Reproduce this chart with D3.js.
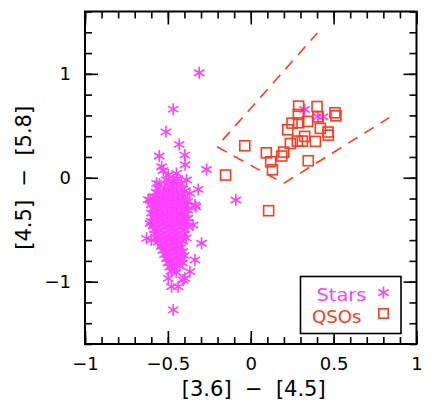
<!DOCTYPE html>
<html>
<head>
<meta charset="utf-8">
<script src="https://cdn.jsdelivr.net/npm/d3@7"></script>
<style>
  body { margin: 0; background: #fff; }
  text { font-family: "DejaVu Sans", sans-serif; }
</style>
</head>
<body>
<div id="chart"></div>
<script>
// colour-colour data
var starPoints = [
  // isolated stars
  [-0.311, 1.01], [-0.468, 0.66], [-0.512, 0.442], [-0.432, 0.321], [-0.398, 0.218],
  [-0.396, 0.125], [-0.552, 0.209], [-0.538, 0.106], [-0.528, 0.07], [-0.267, 0.08],
  [-0.448, 0.042], [-0.498, 0.026], [-0.387, -0.022], [-0.568, -0.054], [-0.317, -0.112],
  [-0.367, -0.15], [-0.09, -0.214], [-0.608, -0.214], [-0.619, -0.21], [-0.337, -0.262],
  [-0.331, -0.279], [-0.608, -0.44], [-0.348, -0.455], [-0.629, -0.583], [-0.6, -0.6],
  [-0.297, -0.631], [-0.337, -0.79], [-0.367, -0.904], [-0.398, -0.968], [-0.498, -0.968],
  [-0.478, -1.048], [-0.438, -1.048], [-0.408, -0.984], [-0.468, -1.272],
  [0.325, 0.657], [0.405, 0.587], [0.436, 0.587],
  // dense clump
  [-0.51, -0.02], [-0.47, -0.03], [-0.44, -0.01],
  [-0.55, -0.06], [-0.50, -0.07], [-0.46, -0.05], [-0.42, -0.06],
  [-0.56, -0.10], [-0.52, -0.11], [-0.49, -0.09], [-0.45, -0.10], [-0.41, -0.11],
  [-0.57, -0.14], [-0.53, -0.15], [-0.50, -0.13], [-0.47, -0.14], [-0.44, -0.15], [-0.40, -0.13],
  [-0.58, -0.18], [-0.55, -0.19], [-0.52, -0.17], [-0.49, -0.18], [-0.46, -0.19], [-0.43, -0.17], [-0.40, -0.18],
  [-0.59, -0.22], [-0.56, -0.23], [-0.53, -0.21], [-0.50, -0.22], [-0.47, -0.23], [-0.44, -0.21], [-0.41, -0.22], [-0.38, -0.23],
  [-0.60, -0.26], [-0.57, -0.27], [-0.54, -0.25], [-0.51, -0.26], [-0.48, -0.27], [-0.45, -0.25], [-0.42, -0.26], [-0.39, -0.27],
  [-0.59, -0.30], [-0.56, -0.31], [-0.53, -0.29], [-0.50, -0.30], [-0.47, -0.31], [-0.44, -0.29], [-0.41, -0.30], [-0.38, -0.31],
  [-0.60, -0.34], [-0.57, -0.35], [-0.54, -0.33], [-0.51, -0.34], [-0.48, -0.35], [-0.45, -0.33], [-0.42, -0.34], [-0.39, -0.35],
  [-0.59, -0.38], [-0.56, -0.39], [-0.53, -0.37], [-0.50, -0.38], [-0.47, -0.39], [-0.44, -0.37], [-0.41, -0.38], [-0.38, -0.39],
  [-0.60, -0.42], [-0.57, -0.43], [-0.54, -0.41], [-0.51, -0.42], [-0.48, -0.43], [-0.45, -0.41], [-0.42, -0.42], [-0.39, -0.43],
  [-0.59, -0.46], [-0.56, -0.47], [-0.53, -0.45], [-0.50, -0.46], [-0.47, -0.47], [-0.44, -0.45], [-0.41, -0.46], [-0.38, -0.47],
  [-0.58, -0.50], [-0.55, -0.51], [-0.52, -0.49], [-0.49, -0.50], [-0.46, -0.51], [-0.43, -0.49], [-0.40, -0.50],
  [-0.58, -0.54], [-0.55, -0.55], [-0.52, -0.53], [-0.49, -0.54], [-0.46, -0.55], [-0.43, -0.53], [-0.40, -0.54],
  [-0.57, -0.58], [-0.54, -0.59], [-0.51, -0.57], [-0.48, -0.58], [-0.45, -0.59], [-0.42, -0.57], [-0.39, -0.58],
  [-0.56, -0.62], [-0.53, -0.63], [-0.50, -0.61], [-0.47, -0.62], [-0.44, -0.63], [-0.41, -0.61],
  [-0.54, -0.66], [-0.51, -0.67], [-0.48, -0.65], [-0.45, -0.66], [-0.42, -0.67],
  [-0.53, -0.70], [-0.50, -0.71], [-0.47, -0.69], [-0.44, -0.70], [-0.41, -0.71],
  [-0.52, -0.74], [-0.49, -0.75], [-0.46, -0.73], [-0.43, -0.74], [-0.40, -0.75],
  [-0.51, -0.78], [-0.48, -0.79], [-0.45, -0.77], [-0.42, -0.78],
  [-0.50, -0.82], [-0.47, -0.83], [-0.44, -0.81], [-0.41, -0.82],
  [-0.49, -0.86], [-0.46, -0.87], [-0.43, -0.85],
  [-0.48, -0.90], [-0.45, -0.91]
];

var qsoPoints = [
  [-0.036, 0.308], [-0.152, 0.026], [0.108, -0.317], [0.094, 0.24], [0.12, 0.154],
  [0.131, 0.077], [0.187, 0.209], [0.199, 0.247], [0.223, 0.462], [0.249, 0.526],
  [0.289, 0.689], [0.287, 0.609], [0.289, 0.529], [0.239, 0.33], [0.281, 0.353],
  [0.311, 0.353], [0.325, 0.398], [0.343, 0.542], [0.347, 0.164], [0.39, 0.35],
  [0.40, 0.686], [0.42, 0.475], [0.466, 0.44], [0.468, 0.41], [0.508, 0.625],
  [0.514, 0.596], [0.405, 0.587]
];

// selection wedge (three dashed segments, each drawn on its own)
var wedgeSegments = [
  [[-0.17, 0.362], [0.402, 1.394]],
  [[-0.203, 0.298], [0.155, -0.016]],
  [[0.199, -0.054], [0.835, 0.578]]
];

var xMajor = [-1, -0.5, 0, 0.5, 1];
var yMajor = [-1, 0, 1];
var xMinor = d3.range(-10, 11).map(function(i) { return i / 10; });
var yMinor = d3.range(-8, 9).map(function(i) { return i / 5; });

var legendItems = ['Stars', 'QSOs'];

var STAR_COLOR = '#ff40ff';
var QSO_COLOR = '#ff3a1e';

var W = 436, H = 415;
var margin = { left: 85, top: 11.5, right: 19.5, bottom: 71 };
var pw = W - margin.left - margin.right;
var ph = H - margin.top - margin.bottom;

var svg = d3.select('#chart').append('svg')
    .attr('width', W)
    .attr('height', H);

var x = d3.scaleLinear().domain([-1, 1]).range([0, pw]);
var y = d3.scaleLinear().domain([-1.6, 1.6]).range([ph, 0]);

var g = svg.append('g')
    .attr('transform', 'translate(' + margin.left + ',' + margin.top + ')');

var fmt = d3.format('~g');

function styleAxis(sel) {
  sel.select('.domain').remove();
  sel.selectAll('.tick line').attr('stroke', '#000').attr('stroke-width', 1.6);
  sel.selectAll('.tick text')
      .attr('fill', '#000')
      .style('font-size', '18px');
}

// minor ticks on all four sides
g.append('g').attr('transform', 'translate(0,' + ph + ')')
    .call(d3.axisBottom(x).tickValues(xMinor).tickSize(-7).tickFormat(''))
    .call(styleAxis);
g.append('g')
    .call(d3.axisTop(x).tickValues(xMinor).tickSize(-7).tickFormat(''))
    .call(styleAxis);
g.append('g')
    .call(d3.axisLeft(y).tickValues(yMinor).tickSize(-7).tickFormat(''))
    .call(styleAxis);
g.append('g').attr('transform', 'translate(' + pw + ',0)')
    .call(d3.axisRight(y).tickValues(yMinor).tickSize(-7).tickFormat(''))
    .call(styleAxis);

// major ticks + labels
g.append('g').attr('transform', 'translate(0,' + ph + ')')
    .call(d3.axisBottom(x).tickValues(xMajor).tickSize(-13).tickPadding(13).tickFormat(fmt))
    .call(styleAxis);
g.append('g')
    .call(d3.axisTop(x).tickValues(xMajor).tickSize(-13).tickFormat(''))
    .call(styleAxis);
g.append('g')
    .call(d3.axisLeft(y).tickValues(yMajor).tickSize(-13).tickPadding(14).tickFormat(fmt))
    .call(styleAxis);
g.append('g').attr('transform', 'translate(' + pw + ',0)')
    .call(d3.axisRight(y).tickValues(yMajor).tickSize(-13).tickFormat(''))
    .call(styleAxis);

// frame
g.append('rect')
    .attr('width', pw)
    .attr('height', ph)
    .attr('fill', 'none')
    .attr('stroke', '#000')
    .attr('stroke-width', 2);

// axis titles
svg.append('text')
    .attr('x', margin.left + x(0) + 3)
    .attr('y', 396)
    .attr('text-anchor', 'middle')
    .style('font-size', '21px')
    .attr('xml:space', 'preserve')
    .text('[3.6]  \u2212  [4.5]');

svg.append('text')
    .attr('transform', 'translate(31,' + (margin.top + y(0)) + ') rotate(-90)')
    .attr('text-anchor', 'middle')
    .style('font-size', '21px')
    .attr('xml:space', 'preserve')
    .text('[4.5]  \u2212  [5.8]');

var plot = g.append('g');

// dashed wedge
var line = d3.line()
    .x(function(d) { return x(d[0]); })
    .y(function(d) { return y(d[1]); });

plot.selectAll('path.wedge')
    .data(wedgeSegments)
    .enter().append('path')
    .attr('class', 'wedge')
    .attr('d', line)
    .attr('fill', 'none')
    .attr('stroke', QSO_COLOR)
    .attr('stroke-width', 1.6)
    .attr('stroke-dasharray', '11,8');

// asterisk marker (6 arms)
var STAR_R = 6;
function starPath(r) {
  var a = r * Math.cos(Math.PI / 6), b = r * Math.sin(Math.PI / 6);
  return 'M0,' + (-r) + 'L0,' + r +
         'M' + (-a) + ',' + (-b) + 'L' + a + ',' + b +
         'M' + (-a) + ',' + b + 'L' + a + ',' + (-b);
}

plot.selectAll('path.star')
    .data(starPoints)
    .enter().append('path')
    .attr('class', 'star')
    .attr('transform', function(d) { return 'translate(' + x(d[0]) + ',' + y(d[1]) + ')'; })
    .attr('d', starPath(STAR_R))
    .attr('stroke', STAR_COLOR)
    .attr('stroke-width', 1.6)
    .attr('fill', 'none');

var SQ = 10;
plot.selectAll('rect.qso')
    .data(qsoPoints)
    .enter().append('rect')
    .attr('class', 'qso')
    .attr('x', function(d) { return x(d[0]) - SQ / 2; })
    .attr('y', function(d) { return y(d[1]) - SQ / 2; })
    .attr('width', SQ)
    .attr('height', SQ)
    .attr('fill', 'none')
    .attr('stroke', QSO_COLOR)
    .attr('stroke-width', 1.6);

// legend
var legend = svg.append('g').attr('transform', 'translate(300.5,276.5)');
legend.append('rect')
    .attr('width', 100.5)
    .attr('height', 57)
    .attr('fill', '#fff')
    .attr('stroke', '#000')
    .attr('stroke-width', 1.6);

var legendColors = [STAR_COLOR, QSO_COLOR];
var legendTextX = [16, 11.5];
legend.selectAll('text.lab')
    .data(legendItems)
    .enter().append('text')
    .attr('class', 'lab')
    .attr('x', function(d, i) { return legendTextX[i]; })
    .attr('y', function(d, i) { return 24 + i * 22; })
    .attr('fill', function(d, i) { return legendColors[i]; })
    .style('font-size', '17px')
    .attr('textLength', function(d, i) { return i === 0 ? 50 : 49.5; })
    .attr('lengthAdjust', 'spacingAndGlyphs')
    .text(function(d) { return d; });

legend.append('path')
    .attr('transform', 'translate(83,16)')
    .attr('d', starPath(STAR_R))
    .attr('stroke', STAR_COLOR)
    .attr('stroke-width', 1.6)
    .attr('fill', 'none');

legend.append('rect')
    .attr('x', 83 - 4.7)
    .attr('y', 37 - 4.7)
    .attr('width', 9.4)
    .attr('height', 9.4)
    .attr('fill', 'none')
    .attr('stroke', QSO_COLOR)
    .attr('stroke-width', 1.6);
</script>
</body>
</html>
